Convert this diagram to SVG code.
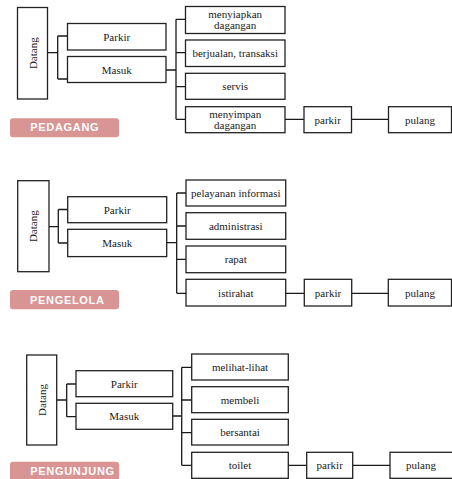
<svg xmlns="http://www.w3.org/2000/svg" width="452" height="479" viewBox="0 0 452 479">
<style>
.box{fill:#fff;stroke:#222;stroke-width:1.3}
.t{font-family:"Liberation Serif","Times New Roman",serif;font-size:11px;fill:#1a1a1a;text-anchor:middle}
.con{fill:none;stroke:#1a1a1a;stroke-width:1.3}
.tag{fill:#d99494}
.tagt{font-family:"Liberation Sans",Arial,sans-serif;font-size:11px;font-weight:bold;fill:#fff;text-anchor:middle;letter-spacing:0.7px}
</style>
<rect width="452" height="479" fill="#fff"/>

<!-- Section 1: PEDAGANG -->
<g id="connectors-pedagang" class="con">
<path d="M47.5 52.7H57.7M57.7 36V79M57.7 36H67.5M57.7 79H67.5"/>
<path d="M166 70H176M176 19.3V119.3M176 19.3H185.5M176 52.7H185.5M176 86.7H185.5M176 119.3H185.5"/>
<path d="M285 119.3H304M351.5 119.3H388.5"/>
</g>
<g id="p-datang"><rect class="box" x="17.5" y="7.5" width="30" height="91.5"/><text class="t" transform="translate(36.5 53.2) rotate(-90)">Datang</text></g>
<g id="p-parkir"><rect class="box" x="67.5" y="23.5" width="98.5" height="26.5"/><text class="t" x="116.7" y="40.5">Parkir</text></g>
<g id="p-masuk"><rect class="box" x="67.5" y="56.5" width="98.5" height="26"/><text class="t" x="116.7" y="73.5">Masuk</text></g>
<g id="p-menyiapkan"><rect class="box" x="185.5" y="6.5" width="99.5" height="27"/><text class="t" x="235.2" y="18">menyiapkan</text><text class="t" x="235.2" y="28.5">dagangan</text></g>
<g id="p-berjualan"><rect class="box" x="185.5" y="40" width="99.5" height="26.5"/><text class="t" x="235.2" y="57">berjualan, transaksi</text></g>
<g id="p-servis"><rect class="box" x="185.5" y="73.3" width="99.5" height="26"/><text class="t" x="235.2" y="90.3">servis</text></g>
<g id="p-menyimpan"><rect class="box" x="185.5" y="106.7" width="99.5" height="26"/><text class="t" x="235.2" y="118">menyimpan</text><text class="t" x="235.2" y="128.5">dagangan</text></g>
<g id="p-parkir2"><rect class="box" x="304" y="106.7" width="47.5" height="26"/><text class="t" x="327.7" y="123.5">parkir</text></g>
<g id="p-pulang"><rect class="box" x="388.5" y="106.7" width="63" height="26"/><text class="t" x="420" y="123.5">pulang</text></g>
<g id="tag-pedagang"><rect class="tag" x="10" y="118.3" width="109" height="19" rx="3"/><text class="tagt" x="64.8" y="131.2">PEDAGANG</text></g>

<!-- Section 2: PENGELOLA -->
<g id="connectors-pengelola" class="con">
<path d="M49 226.7H58.3M58.3 209.5V243M58.3 209.5H67.7M58.3 243H67.7"/>
<path d="M166.7 242.7H176.7M176.7 193V293.3M176.7 193H186M176.7 226H186M176.7 259.3H186M176.7 293.3H186"/>
<path d="M285.7 293.3H304.3M351.7 293.3H388.3"/>
</g>
<g id="g-datang"><rect class="box" x="17.7" y="180.7" width="31.3" height="91"/><text class="t" transform="translate(37.3 226.2) rotate(-90)">Datang</text></g>
<g id="g-parkir"><rect class="box" x="67.7" y="196.7" width="99" height="26"/><text class="t" x="117.2" y="213.5">Parkir</text></g>
<g id="g-masuk"><rect class="box" x="67.7" y="229.3" width="99" height="27.3"/><text class="t" x="117.2" y="246.8">Masuk</text></g>
<g id="g-pelayanan"><rect class="box" x="186" y="180" width="99.7" height="26"/><text class="t" x="235.8" y="196.8">pelayanan informasi</text></g>
<g id="g-administrasi"><rect class="box" x="186" y="212.7" width="99.7" height="26.6"/><text class="t" x="235.8" y="229.8">administrasi</text></g>
<g id="g-rapat"><rect class="box" x="186" y="246" width="99.7" height="26.7"/><text class="t" x="235.8" y="263">rapat</text></g>
<g id="g-istirahat"><rect class="box" x="186" y="279.3" width="99.7" height="26.7"/><text class="t" x="235.8" y="296.5">istirahat</text></g>
<g id="g-parkir2"><rect class="box" x="304.3" y="279.3" width="47.4" height="26.7"/><text class="t" x="328" y="296.5">parkir</text></g>
<g id="g-pulang"><rect class="box" x="388.3" y="279.3" width="63.2" height="26.7"/><text class="t" x="420" y="296.5">pulang</text></g>
<g id="tag-pengelola"><rect class="tag" x="10" y="290" width="109" height="19.3" rx="3"/><text class="tagt" x="67.3" y="303.5">PENGELOLA</text></g>

<!-- Section 3: PENGUNJUNG -->
<g id="connectors-pengunjung" class="con">
<path d="M56.7 400H66.7M66.7 384V416.7M66.7 384H76M66.7 416.7H76"/>
<path d="M172.7 416H181.7M181.7 367.3V465.3M181.7 367.3H191.7M181.7 400H191.7M181.7 432.7H191.7M181.7 465.3H191.7"/>
<path d="M288.3 465.3H306.7M352.7 465.3H390"/>
</g>
<g id="u-datang"><rect class="box" x="26.7" y="355" width="30" height="90"/><text class="t" transform="translate(45.7 400) rotate(-90)">Datang</text></g>
<g id="u-parkir"><rect class="box" x="76" y="370.7" width="96.7" height="26"/><text class="t" x="124.3" y="387.5">Parkir</text></g>
<g id="u-masuk"><rect class="box" x="76" y="403.3" width="96.7" height="26"/><text class="t" x="124.3" y="420.2">Masuk</text></g>
<g id="u-melihat"><rect class="box" x="191.7" y="354" width="96.6" height="26"/><text class="t" x="240" y="370.8">melihat-lihat</text></g>
<g id="u-membeli"><rect class="box" x="191.7" y="386.7" width="96.6" height="26"/><text class="t" x="240" y="403.5">membeli</text></g>
<g id="u-bersantai"><rect class="box" x="191.7" y="419.3" width="96.6" height="25.7"/><text class="t" x="240" y="436">bersantai</text></g>
<g id="u-toilet"><rect class="box" x="191.7" y="452.3" width="96.6" height="26"/><text class="t" x="240" y="469">toilet</text></g>
<g id="u-parkir2"><rect class="box" x="306.7" y="452.3" width="46" height="26"/><text class="t" x="329.7" y="469">parkir</text></g>
<g id="u-pulang"><rect class="box" x="390" y="452.3" width="63" height="26"/><text class="t" x="421" y="469">pulang</text></g>
<g id="tag-pengunjung"><rect class="tag" x="10" y="461.7" width="109" height="25" rx="3"/><text class="tagt" x="72.5" y="475.3">PENGUNJUNG</text></g>
</svg>
